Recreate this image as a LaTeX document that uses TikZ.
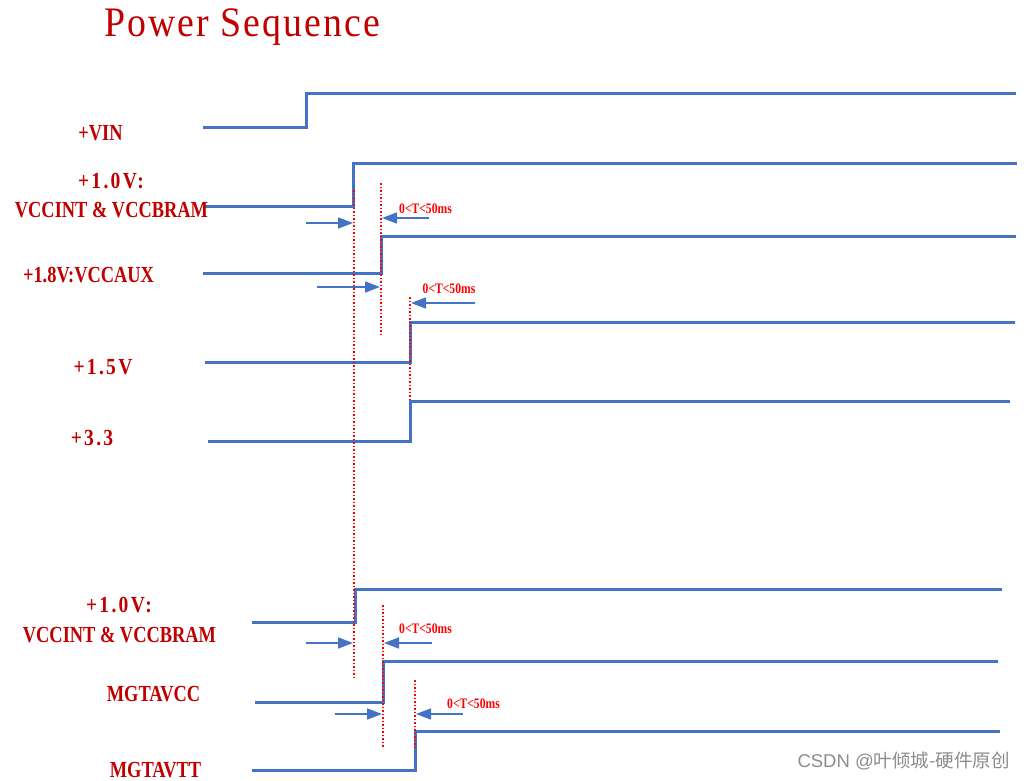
\documentclass[tikz,border=0pt]{standalone}
\usepackage{fontspec}
\usetikzlibrary{arrows.meta}
\newfontfamily\labfont[FakeStretch=0.8]{Liberation Serif}
\newfontfamily\labwide[FakeStretch=0.85,LetterSpace=10]{Liberation Serif}
\newfontfamily\titlefont[FakeStretch=0.9,LetterSpace=5]{Liberation Serif}
\newfontfamily\cjkfont{Noto Sans CJK SC}
\newfontfamily\wmlatin{Liberation Sans}
\definecolor{sigblue}{HTML}{4472C4}
\definecolor{lblred}{HTML}{C00000}
\definecolor{guidered}{HTML}{FF0000}
\definecolor{wmgray}{HTML}{8C8C8C}
\begin{document}
\begin{tikzpicture}[x=1pt,y=-1pt,
  sig/.style={draw=sigblue, line width=3pt, line join=miter},
  guide/.style={draw=guidered, line width=1.4pt, dash pattern=on 1.6pt off 1.9pt},
  gaparrow/.style={draw=sigblue, line width=1.6pt, -{Triangle[length=15pt,width=11pt,fill=sigblue]}},
  lab/.style={text=lblred, inner sep=0pt, font=\labfont\bfseries\fontsize{23}{28}\selectfont, anchor=base},
  labw/.style={text=lblred, inner sep=0pt, font=\labwide\bfseries\fontsize{23}{28}\selectfont, anchor=base},
  tlab/.style={text=guidered, inner sep=0pt, font=\labfont\bfseries\fontsize{14.5}{16}\selectfont, anchor=base},
]
\useasboundingbox (0,0) rectangle (1026,780);

% title
\node[text=lblred, inner sep=0pt, anchor=base west, font=\titlefont\fontsize{42}{48}\selectfont] (title) at (104,36) {Power Sequence};

% waveforms
\draw[sig] (203,127) -- (306,127) -- (306,93) -- (1016,93);
\draw[sig] (205,206) -- (353,206) -- (353,163) -- (1017,163);
\draw[sig] (203,273) -- (381,273) -- (381,236) -- (1016,236);
\draw[sig] (205,362) -- (410,362) -- (410,322) -- (1015,322);
\draw[sig] (208,441) -- (410,441) -- (410,401) -- (1010,401);
\draw[sig] (252,622) -- (355,622) -- (355,589) -- (1002,589);
\draw[sig] (255,702) -- (383,702) -- (383,661) -- (998,661);
\draw[sig] (252,770) -- (415,770) -- (415,731) -- (1000,731);

% guide lines
\draw[guide] (354,190) -- (354,677);
\draw[guide] (381,183) -- (381,335);
\draw[guide] (410,297) -- (410,400);
\draw[guide] (383,605) -- (383,747);
\draw[guide] (415,680) -- (415,747);

% gap arrows
\draw[gaparrow] (306,223) -- (353,223);
\draw[gaparrow] (429,218) -- (382,218);
\draw[gaparrow] (317,287) -- (380,287);
\draw[gaparrow] (475,303) -- (411,303);
\draw[gaparrow] (306,643) -- (353,643);
\draw[gaparrow] (432,643) -- (384,643);
\draw[gaparrow] (335,714) -- (382,714);
\draw[gaparrow] (463,714) -- (416,714);

% gap labels
\node[tlab] (t1) at (425.5,213) {0<T<50ms};
\node[tlab] (t2) at (449,293) {0<T<50ms};
\node[tlab] (t3) at (425.5,633) {0<T<50ms};
\node[tlab] (t4) at (473.5,708) {0<T<50ms};

% signal labels
\node[lab] (vin) at (100.5,140) {+VIN};
\node[labw] (v10a) at (111,188) {+1.0V:};
\node[lab] (v10b) at (111.5,217) {VCCINT \& VCCBRAM};
\node[lab] (v18) at (88.5,282) {+1.8V:VCCAUX};
\node[labw] (v15) at (103,374) {+1.5V};
\node[labw] (v33) at (92,445) {+3.3};
\node[labw] (w10a) at (119,612) {+1.0V:};
\node[lab] (w10b) at (119.5,642) {VCCINT \& VCCBRAM};
\node[lab] (mgtavcc) at (153.5,701) {MGTAVCC};
\node[lab] (mgtavtt) at (155.5,777) {MGTAVTT};

% watermark
\node[text=wmgray, inner sep=0pt, anchor=base east, font=\fontsize{18.5}{22}\selectfont] (wm) at (1010,767) {{\wmlatin CSDN @}{\cjkfont 叶倾城-硬件原创}};
\end{tikzpicture}
\end{document}
